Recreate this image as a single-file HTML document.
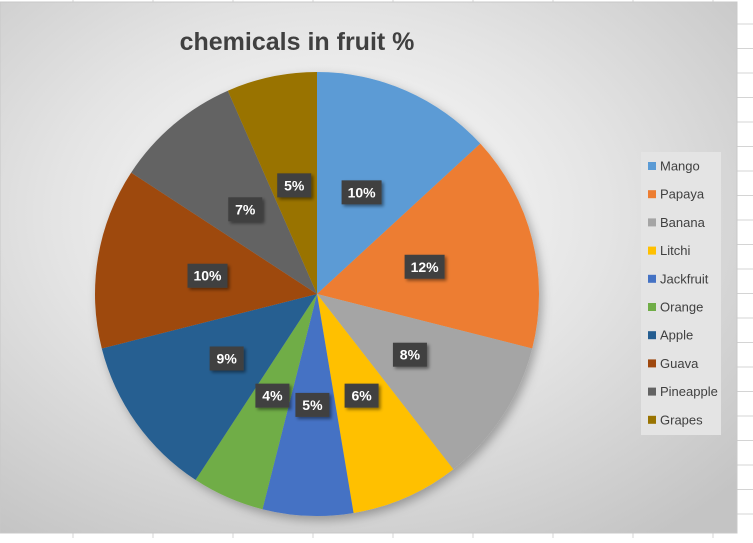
<!DOCTYPE html>
<html><head><meta charset="utf-8"><style>
body{margin:0;width:753px;height:538px;overflow:hidden;background:#fff;font-family:"Liberation Sans",sans-serif}
</style></head><body>
<svg width="753" height="538" xmlns="http://www.w3.org/2000/svg">
<defs>
<radialGradient id="bg" cx="0.45" cy="0.4" r="0.75">
<stop offset="0" stop-color="#ffffff"/><stop offset="0.5" stop-color="#e4e4e4"/><stop offset="1" stop-color="#c4c4c4"/>
</radialGradient>
<filter id="sh" x="-20%" y="-20%" width="150%" height="150%"><feDropShadow dx="2" dy="2" stdDeviation="1.5" flood-opacity="0.45"/></filter>
<filter id="psh" x="-10%" y="-10%" width="130%" height="130%"><feDropShadow dx="3" dy="4" stdDeviation="5" flood-opacity="0.3"/></filter>
</defs>
<g id="grid"></g>
<rect x="0" y="2" width="737" height="531" fill="url(#bg)" stroke="#c8c8c8"/>
<text x="297" y="50" text-anchor="middle" font-size="25" font-weight="bold" fill="#404040">chemicals in fruit %</text>
<g id="pie" filter="url(#psh)"></g>
<g id="labels"></g>
<rect x="641" y="152" width="80" height="283" fill="#e4e4e4"/>
<g id="legend"></g>
</svg>
<script>
const categories=["Mango","Papaya","Banana","Litchi","Jackfruit","Orange","Apple","Guava","Pineapple","Grapes"];
const values=[10,12,8,6,5,4,9,10,7,5];
const labelsTxt=["10%","12%","8%","6%","5%","4%","9%","10%","7%","5%"];
const colors=["#5b9bd5","#ed7d31","#a5a5a5","#ffc000","#4472c4","#70ad47","#255e91","#9e480e","#636363","#997300"];
const NS="http://www.w3.org/2000/svg";
const cx=317,cy=294,R=222;
function mk(t,a,p){const e=document.createElementNS(NS,t);for(const k in a)e.setAttribute(k,a[k]);p.appendChild(e);return e;}
const grid=document.getElementById('grid');
for(let y=24;y<538;y+=24.5){const l=mk('line',{x1:737,x2:753,y1:y,y2:y,stroke:'#d4d4d4'},grid);}
for(let x=73;x<737;x+=80){mk('line',{x1:x,x2:x,y1:533,y2:538,stroke:'#d4d4d4'},grid);mk('line',{x1:x,x2:x,y1:0,y2:2,stroke:'#d4d4d4'},grid);}
const total=values.reduce((a,b)=>a+b,0);
const pie=document.getElementById('pie'),lab=document.getElementById('labels'),leg=document.getElementById('legend');
let acc=0;
values.forEach((v,i)=>{
 const a0=acc/total*2*Math.PI;acc+=v;const a1=acc/total*2*Math.PI;
 const p=(a)=>[cx+R*Math.sin(a),cy-R*Math.cos(a)];
 const [x0,y0]=p(a0),[x1,y1]=p(a1);
 const path=mk('path',{d:`M${cx},${cy}L${x0},${y0}A${R},${R} 0 ${a1-a0>Math.PI?1:0} 1 ${x1},${y1}Z`,fill:colors[i]},pie);
 
 
 const am=(a0+a1)/2,lx=cx+111*Math.sin(am),ly=cy-111*Math.cos(am);
 const w=labelsTxt[i].length>2?40:34;
 const b=mk('rect',{x:lx-w/2,y:ly-12,width:w,height:24,fill:'#404040',filter:'url(#sh)'},lab);
 
 
 const t=mk('text',{x:lx,y:ly+5,'text-anchor':'middle','font-size':14,'font-weight':'bold',fill:'#fff'},lab);
 t.textContent=labelsTxt[i];
 
 
 const g=mk('g',{},leg);
 
 
 const ey=166+i*28.2;
 mk('rect',{x:648,y:ey-4,width:8,height:8,fill:colors[i]},g);
 const lt=mk('text',{x:660,y:ey+4.5,'font-size':13,fill:'#404040'},g);lt.textContent=categories[i];
});
</script>
</body></html>
